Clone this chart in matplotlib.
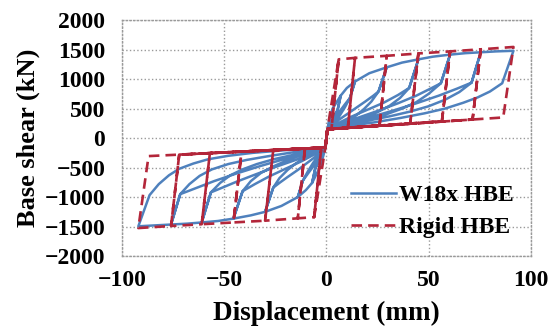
import matplotlib
matplotlib.use("Agg")
import matplotlib.pyplot as plt

# ---------------------------------------------------------------------------
# W18x HBE (solid blue): first-loading envelopes, cycle peaks, unloading kinks,
# unloading branches (kink -> origin) and reloading branches (origin -> kink)
w18_env_pos = [(0, 0), (1, 250), (3, 500), (7, 720), (10, 850), (14, 960),
               (21, 1100), (29.5, 1200), (37, 1280), (45, 1335), (52, 1380),
               (60.5, 1415), (68, 1440), (75.5, 1455), (83, 1470), (91.5, 1480)]
w18_env_neg = [(-0.5, -150), (-1.5, -300), (-3, -480), (-7, -760), (-10, -880),
               (-14, -1000), (-22, -1150), (-30, -1250), (-37, -1310),
               (-45.5, -1365), (-53, -1405), (-61, -1430), (-68, -1450),
               (-76, -1465), (-84, -1480), (-92, -1495)]
w18_peaks_pos = [7, 14, 29.5, 45, 60.5, 75.5, 91.5]
w18_peaks_neg = [-7, -14, -30, -45.5, -61, -76, -92]
w18_kinks_pos = [(5.5, 480), (11.5, 680), (25.5, 790), (40.5, 850),
                 (56, 930), (71, 940), (86, 930)]
w18_kinks_neg = [(-5.5, -520), (-11.5, -720), (-26, -840), (-41, -900),
                 (-56.5, -920), (-71.5, -950), (-86.5, -966)]
w18_unload_pos = [
    [(3.5, 330), (2, 230)],
    [(9, 520), (6.5, 380), (4, 270), (2, 200)],
    [(22, 620), (18, 480), (14, 370), (10, 290), (6, 220), (2.5, 175)],
    [(36, 680), (31, 550), (25, 440), (19, 350), (13, 280), (7, 210), (2.5, 170)],
    [(50, 750), (44, 610), (37, 500), (29, 400), (21, 320), (13, 250), (6, 195)],
    [(65, 780), (58, 650), (50, 540), (41, 450), (31, 370), (21, 300), (11, 230),
     (4, 180)],
    [(80, 790), (74, 690), (67, 600), (58, 500), (48, 420), (36, 340), (24, 270),
     (12, 210), (3, 170)],
]
w18_unload_neg = [
    [(-3.5, -360), (-2, -250)],
    [(-9, -560), (-6.5, -420), (-4, -300), (-2, -210)],
    [(-23, -680), (-19, -540), (-15, -430), (-11, -340), (-7, -270), (-3, -200)],
    [(-37, -730), (-32, -590), (-26, -480), (-20, -390), (-14, -310), (-8, -240),
     (-3, -190)],
    [(-52, -760), (-47, -630), (-41, -530), (-34, -440), (-26, -360), (-17, -290),
     (-8, -220)],
    [(-67, -780), (-62, -640), (-56, -530), (-48, -440), (-39, -370), (-29, -310),
     (-18, -250), (-8, -195)],
    [(-82, -780), (-77, -630), (-72, -520), (-65, -430), (-58, -360), (-48, -300),
     (-36, -250), (-22, -210), (-10, -180)],
]
w18_reload_pos = [
    [(2, 260), (4, 380)],
    [(3, 280), (6, 430), (9, 570)],
    [(4, 260), (9, 380), (14, 500), (19, 620), (23, 720)],
    [(5, 240), (12, 360), (20, 480), (28, 600), (35, 730)],
    [(6, 230), (15, 340), (25, 460), (35, 590), (44, 720), (51, 840)],
    [(8, 230), (20, 340), (32, 460), (44, 590), (55, 720), (64, 840)],
]
w18_reload_neg = [
    [(-2, -280), (-4, -410)],
    [(-3, -300), (-6, -460), (-9, -600)],
    [(-4, -280), (-9, -410), (-14, -540), (-19, -660), (-23, -760)],
    [(-5, -260), (-12, -390), (-20, -520), (-28, -650), (-35, -780)],
    [(-6, -250), (-15, -370), (-25, -490), (-35, -620), (-44, -740), (-51, -840)],
    [(-8, -240), (-20, -350), (-32, -470), (-44, -600), (-55, -730), (-64, -850)],
]
w18_zero_pos = (0.5, 150)
w18_zero_neg = (-0.5, -150)

# Rigid HBE (dashed red): straight slack branches, so only corners are needed
rigid_env_pos = [(0, 0), (0.5, 150), (6, 1335), (14, 1360), (29.5, 1395),
                 (45, 1435), (60.5, 1470), (75.5, 1505), (91.5, 1545)]
rigid_env_neg = [(-0.5, -160), (-6, -1340), (-14, -1360), (-30, -1400),
                 (-45.5, -1430), (-61, -1460), (-76, -1490), (-92, -1525)]
rigid_peaks_pos = [6, 14, 29.5, 45, 60.5, 75.5, 91.5]
rigid_peaks_neg = [-6, -14, -30, -45.5, -61, -76, -92]
rigid_kinks_pos = [(2.5, 165), (10.5, 180), (26, 215), (41, 250),
                   (56.5, 285), (71.5, 315), (86.5, 350)]
rigid_kinks_neg = [(-2.5, -165), (-10.5, -180), (-26, -205), (-41.5, -230),
                   (-57, -255), (-72, -280), (-87, -305)]
rigid_zero_pos = (0.5, 150)
rigid_zero_neg = (-0.5, -160)

x_ticks = [-100, -50, 0, 50, 100]
y_ticks = [-2000, -1500, -1000, -500, 0, 500, 1000, 1500, 2000]


def half_cycle(env, peaks, kinks, unload, reload, zero, i):
    env_d = [d for d, f in env]
    pts = []
    if i > 0:
        pts += [zero] + reload[i - 1] + [kinks[i - 1]]
        start = env_d.index(peaks[i - 1])
    else:
        start = 0
    stop = env_d.index(peaks[i])
    pts += env[start:stop + 1]
    pts += [kinks[i]] + unload[i] + [zero]
    return pts


def hysteresis(pos, neg):
    path = []
    for i in range(len(pos[1])):
        path += half_cycle(*pos, i)
        path += half_cycle(*neg, i)
    return [p[0] for p in path], [p[1] for p in path]


w18_x, w18_y = hysteresis(
    (w18_env_pos, w18_peaks_pos, w18_kinks_pos, w18_unload_pos,
     w18_reload_pos, w18_zero_pos),
    (w18_env_neg, w18_peaks_neg, w18_kinks_neg, w18_unload_neg,
     w18_reload_neg, w18_zero_neg))

no_branch = [[] for _ in rigid_peaks_pos]
rigid_x, rigid_y = hysteresis(
    (rigid_env_pos, rigid_peaks_pos, rigid_kinks_pos, no_branch, no_branch,
     rigid_zero_pos),
    (rigid_env_neg, rigid_peaks_neg, rigid_kinks_neg, no_branch, no_branch,
     rigid_zero_neg))

plt.rcParams['font.family'] = ['Liberation Serif', 'DejaVu Serif']
plt.rcParams['font.weight'] = 'bold'

fig = plt.figure(figsize=(5.57, 3.30), dpi=100)
ax = fig.add_axes([0.219, 0.224, 0.734, 0.715])

ax.plot(w18_x, w18_y, color='#4f81bd', lw=1.8, label='W18x HBE', zorder=3)
ax.plot(rigid_x, rigid_y, color='#b3263a', lw=1.9, ls=(0, (4, 2.3)),
        label='Rigid HBE', zorder=4)

ax.set_xlim(-100, 100)
ax.set_ylim(-2000, 2000)
ax.set_xticks(x_ticks)
ax.set_yticks(y_ticks)
ax.grid(True, color='#9a9a9a', ls=':', lw=1.0)
for s in ax.spines.values():
    s.set_color('#9a9a9a')
    s.set_linestyle(':')
    s.set_linewidth(1.0)
ax.tick_params(length=0, labelsize=17)
ax.tick_params(axis='y', pad=12)
ax.tick_params(axis='x', pad=10)

ax.set_xlabel('Displacement (mm)', fontsize=19.5, fontweight='bold', labelpad=7)
ax.set_ylabel('Base shear (kN)', fontsize=19, fontweight='bold', labelpad=3)

ax.legend(loc='center left', bbox_to_anchor=(0.532, 0.19), frameon=False,
          fontsize=17, handlelength=1.9, handletextpad=0.1, labelspacing=0.45,
          borderpad=0)

fig.savefig('out.png', dpi=100)
